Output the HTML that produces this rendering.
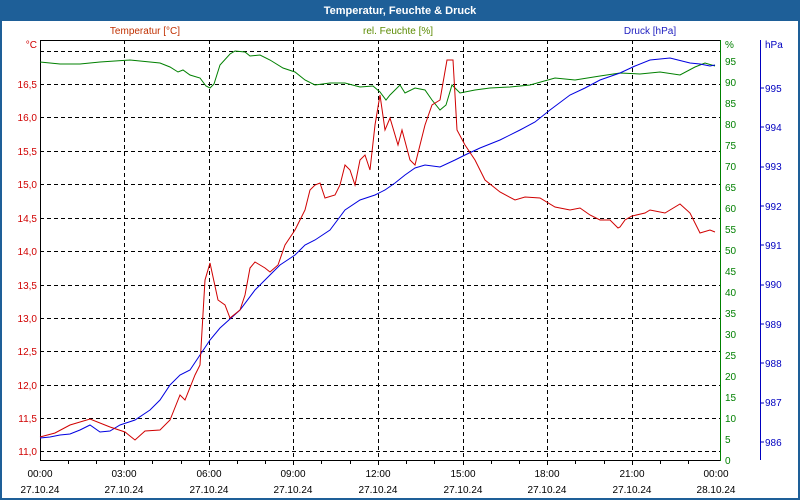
<!DOCTYPE html>
<html><head><meta charset="utf-8"><style>
body{margin:0;width:800px;height:500px;overflow:hidden;background:#1e5f98;font-family:"Liberation Sans",sans-serif}
svg{position:absolute;left:0;top:0}
</style></head><body>
<svg width="800" height="500" xmlns="http://www.w3.org/2000/svg" font-family="Liberation Sans, sans-serif" font-size="10">
<rect x="0" y="0" width="800" height="20" fill="#1e5f98"/>
<text x="400" y="14" fill="#fff" font-weight="bold" font-size="11" text-anchor="middle">Temperatur, Feuchte &amp; Druck</text>
<rect x="2" y="21" width="796" height="477" fill="#fff"/>
<text x="145" y="34" fill="#c03000" text-anchor="middle">Temperatur [°C]</text>
<text x="398" y="34" fill="#5a8a00" text-anchor="middle">rel. Feuchte [%]</text>
<text x="650" y="34" fill="#2020c0" text-anchor="middle">Druck [hPa]</text>
<g stroke="#000" stroke-dasharray="4,3" stroke-width="1">
<line x1="40" x2="720" y1="51.5" y2="51.5"/><line x1="40" x2="720" y1="84.5" y2="84.5"/><line x1="40" x2="720" y1="117.5" y2="117.5"/><line x1="40" x2="720" y1="151.5" y2="151.5"/><line x1="40" x2="720" y1="184.5" y2="184.5"/><line x1="40" x2="720" y1="218.5" y2="218.5"/><line x1="40" x2="720" y1="251.5" y2="251.5"/><line x1="40" x2="720" y1="285.5" y2="285.5"/><line x1="40" x2="720" y1="318.5" y2="318.5"/><line x1="40" x2="720" y1="351.5" y2="351.5"/><line x1="40" x2="720" y1="385.5" y2="385.5"/><line x1="40" x2="720" y1="418.5" y2="418.5"/><line x1="40" x2="720" y1="451.5" y2="451.5"/>
<line x1="124.5" x2="124.5" y1="40" y2="460"/><line x1="209.5" x2="209.5" y1="40" y2="460"/><line x1="293.5" x2="293.5" y1="40" y2="460"/><line x1="378.5" x2="378.5" y1="40" y2="460"/><line x1="463.5" x2="463.5" y1="40" y2="460"/><line x1="547.5" x2="547.5" y1="40" y2="460"/><line x1="632.5" x2="632.5" y1="40" y2="460"/>
</g>
<line x1="40.5" y1="40" x2="40.5" y2="460" stroke="#000"/>
<line x1="40" y1="40.5" x2="720" y2="40.5" stroke="#000"/>
<line x1="40" y1="460.5" x2="720" y2="460.5" stroke="#000"/>
<g stroke="#000">
<line x1="68.5" x2="68.5" y1="460" y2="464"/><line x1="96.5" x2="96.5" y1="460" y2="464"/><line x1="124.5" x2="124.5" y1="460" y2="465"/><line x1="152.5" x2="152.5" y1="460" y2="464"/><line x1="181.5" x2="181.5" y1="460" y2="464"/><line x1="209.5" x2="209.5" y1="460" y2="465"/><line x1="237.5" x2="237.5" y1="460" y2="464"/><line x1="265.5" x2="265.5" y1="460" y2="464"/><line x1="293.5" x2="293.5" y1="460" y2="465"/><line x1="321.5" x2="321.5" y1="460" y2="464"/><line x1="350.5" x2="350.5" y1="460" y2="464"/><line x1="378.5" x2="378.5" y1="460" y2="465"/><line x1="406.5" x2="406.5" y1="460" y2="464"/><line x1="434.5" x2="434.5" y1="460" y2="464"/><line x1="463.5" x2="463.5" y1="460" y2="465"/><line x1="491.5" x2="491.5" y1="460" y2="464"/><line x1="519.5" x2="519.5" y1="460" y2="464"/><line x1="547.5" x2="547.5" y1="460" y2="465"/><line x1="575.5" x2="575.5" y1="460" y2="464"/><line x1="604.5" x2="604.5" y1="460" y2="464"/><line x1="632.5" x2="632.5" y1="460" y2="465"/><line x1="660.5" x2="660.5" y1="460" y2="464"/><line x1="688.5" x2="688.5" y1="460" y2="464"/>
</g>
<line x1="720.5" y1="40" x2="720.5" y2="461" stroke="#008000"/>
<line x1="760.5" y1="40" x2="760.5" y2="460" stroke="#0000c0"/>
<g fill="#d00000" text-anchor="end">
<text x="37" y="48">°C</text>
<text x="37" y="88">16,5</text><text x="37" y="121">16,0</text><text x="37" y="155">15,5</text><text x="37" y="188">15,0</text><text x="37" y="222">14,5</text><text x="37" y="255">14,0</text><text x="37" y="289">13,5</text><text x="37" y="322">13,0</text><text x="37" y="355">12,5</text><text x="37" y="389">12,0</text><text x="37" y="422">11,5</text><text x="37" y="455">11,0</text>
</g>
<g fill="#008000">
<text x="725" y="48">%</text>
<text x="725" y="65">95</text><text x="725" y="86">90</text><text x="725" y="107">85</text><text x="725" y="128">80</text><text x="725" y="149">75</text><text x="725" y="170">70</text><text x="725" y="191">65</text><text x="725" y="212">60</text><text x="725" y="233">55</text><text x="725" y="254">50</text><text x="725" y="275">45</text><text x="725" y="296">40</text><text x="725" y="317">35</text><text x="725" y="338">30</text><text x="725" y="359">25</text><text x="725" y="380">20</text><text x="725" y="401">15</text><text x="725" y="422">10</text><text x="725" y="443">5</text><text x="725" y="464">0</text>
</g>
<g fill="#0000c0">
<text x="765" y="48">hPa</text>
<text x="765" y="92">995</text><text x="765" y="131">994</text><text x="765" y="170">993</text><text x="765" y="210">992</text><text x="765" y="249">991</text><text x="765" y="288">990</text><text x="765" y="328">989</text><text x="765" y="367">988</text><text x="765" y="406">987</text><text x="765" y="446">986</text>
</g>
<g stroke="#0000c0"><line x1="760" x2="764" y1="88" y2="88"/><line x1="760" x2="764" y1="127" y2="127"/><line x1="760" x2="764" y1="167" y2="167"/><line x1="760" x2="764" y1="206" y2="206"/><line x1="760" x2="764" y1="245" y2="245"/><line x1="760" x2="764" y1="285" y2="285"/><line x1="760" x2="764" y1="324" y2="324"/><line x1="760" x2="764" y1="363" y2="363"/><line x1="760" x2="764" y1="403" y2="403"/><line x1="760" x2="764" y1="442" y2="442"/></g>
<g fill="#000" text-anchor="middle">
<text x="40" y="477">00:00</text><text x="124" y="477">03:00</text><text x="209" y="477">06:00</text><text x="293" y="477">09:00</text><text x="378" y="477">12:00</text><text x="463" y="477">15:00</text><text x="547" y="477">18:00</text><text x="632" y="477">21:00</text><text x="716" y="477">00:00</text>
<text x="40" y="493">27.10.24</text><text x="124" y="493">27.10.24</text><text x="209" y="493">27.10.24</text><text x="293" y="493">27.10.24</text><text x="378" y="493">27.10.24</text><text x="463" y="493">27.10.24</text><text x="547" y="493">27.10.24</text><text x="632" y="493">27.10.24</text><text x="716" y="493">28.10.24</text>
</g>
<polyline fill="none" stroke="#008000" points="40,62 60,64 80,64 100,62 130,60 160,63 170,67 178,72 183,70 190,75 200,78 206,86 210,88 214,84 220,65 230,54 235,51 245,52 250,56 260,55 270,60 283,68 295,72 305,80 315,85 330,83 345,83 360,87 373,86 380,92 386,100 390,95 400,85 405,93 415,88 425,90 432,100 440,110 446,105 452,85 460,93 475,90 490,88 510,87 530,85 555,78 575,80 600,76 620,73 640,74 660,72 680,75 695,67 705,63 715,66"/>
<polyline fill="none" stroke="#0000e0" points="40,438 50,437 60,435 70,434 80,430 90,425 100,432 110,431 120,425 135,420 150,410 160,400 170,385 180,375 190,370 200,355 210,340 220,328 240,310 255,290 270,275 280,265 295,255 305,245 315,240 330,230 345,210 360,200 375,195 385,190 395,183 405,175 415,168 425,165 440,167 455,160 465,155 480,148 500,140 520,130 535,122 550,110 570,95 585,88 600,80 620,73 635,66 650,60 670,58 690,63 700,64 710,66 715,65"/>
<polyline fill="none" stroke="#d00000" points="40,437 55,433 70,425 90,419 110,427 125,432 135,440 145,431 160,430 170,420 180,395 185,400 195,375 200,365 205,280 210,263 218,300 225,305 230,318 240,310 245,295 250,268 255,262 265,268 270,272 278,265 285,245 295,230 305,210 310,190 315,185 320,183 325,198 335,195 340,185 345,165 350,170 355,185 360,160 365,155 370,170 375,125 380,95 385,130 390,118 398,145 402,130 410,160 415,165 425,125 432,105 440,100 447,60 453,60 457,130 465,145 475,160 485,180 500,192 515,200 525,197 540,198 555,207 570,210 580,208 590,215 600,220 610,220 618,228 620,227 625,220 632,216 645,213 650,210 665,213 680,204 690,213 700,233 710,230 715,232"/>
</svg>
</body></html>
